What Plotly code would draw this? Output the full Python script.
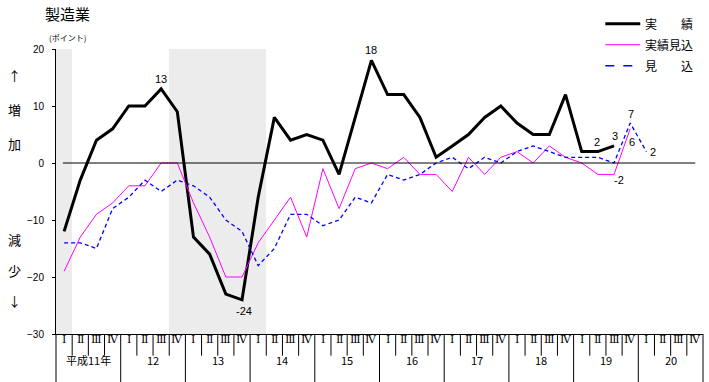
import plotly.graph_objects as go

# ---- data ----
quarters = ["Ⅰ", "Ⅱ", "Ⅲ", "Ⅳ"]
years = ["平成11年", "12", "13", "14", "15", "16", "17", "18", "19", "20"]
jisseki = [-12, -3, 4, 6, 10, 10, 13, 9, -13, -16, -23, -24, -6, 8, 4, 5, 4, -2, 8, 18,
           12, 12, 8, 1, 3, 5, 8, 10, 7, 5, 5, 12, 2, 2, 3]
jisseki_mikomi = [-19, -13, -9, -7, -4, -4, 0, 0, -7, -13, -20, -20, -14, -10, -6, -13, -1, -8, -1, 0,
                  -1, 1, -2, -2, -5, 1, -2, 1, 2, 0, 3, 1, 0, -2, -2, 6]
mikomi = [-14, -14, -15, -8, -6, -3, -5, -3, -4, -6, -10, -12, -18, -15, -9, -9, -11, -10, -6, -7,
          -2, -3, -2, 0, 1, -1, 1, 0, 2, 3, 2, 1, 1, 1, 0, 7, 2]
shaded_quarters = [0, 7, 8, 9, 10, 11, 12]
series_names = ["実　　績", "実績見込", "見　　込"]

YMIN, YMAX = -30, 20
nq = len(quarters) * len(years)

JP = "Noto Sans CJK JP"
NUM = "Liberation Sans"

fig = go.Figure()

# shaded periods (dotted pattern)
fig.add_trace(go.Bar(
    x=shaded_quarters, y=[YMAX - YMIN] * len(shaded_quarters), base=YMIN, width=1,
    marker=dict(color="white", line_width=0,
                pattern=dict(shape=".", fgcolor="#959595", bgcolor="white", size=2, solidity=0.35)),
    hoverinfo="skip", showlegend=False))

colors = ["black", "#ff00ff", "#0000ff"]
widths = [3, 1, 1.3]
dashes = ["solid", "solid", "4px,3px"]
for vals, c, w, d, nm in zip([jisseki, jisseki_mikomi, mikomi], colors, widths, dashes, series_names):
    fig.add_trace(go.Scatter(x=list(range(len(vals))), y=vals, mode="lines", name=nm,
                             line=dict(color=c, width=w, dash=d), showlegend=False))

shapes = []
# zero line
shapes.append(dict(type="line", xref="x", yref="y", x0=-0.07, x1=39.02, y0=0, y1=0,
                   line=dict(color="black", width=1)))
# x-axis separators
for k in range(nq + 1):
    full = (k % 4 == 0)
    shapes.append(dict(type="line", xref="paper", yref="paper", x0=k / nq, x1=k / nq,
                       y0=0, y1=-0.175 if full else -0.076, line=dict(color="black", width=1)))

annotations = []
for i in range(nq):
    annotations.append(dict(x=i, y=-0.05, xref="x", yref="paper", text=quarters[i % 4],
                            showarrow=False, font=dict(family="DejaVu Serif, " + JP, size=11, color="black")))
for j, yl in enumerate(years):
    annotations.append(dict(x=4 * j + 1.5, y=-0.128, xref="x", yref="paper", text=yl,
                            showarrow=False, font=dict(family=JP, size=11, color="black")))

# title and side texts
annotations.append(dict(x=-0.0201, y=1.124, xref="paper", yref="paper", text="製造業",
                        xanchor="left", yanchor="middle", showarrow=False,
                        font=dict(family=JP, size=15, color="black")))
annotations.append(dict(x=-0.0139, y=1.0397, xref="paper", yref="paper", text="(ポイント)",
                        xanchor="left", yanchor="middle", showarrow=False,
                        font=dict(family=JP, size=8, color="black")))
for txt, yp in [("↑", 0.906), ("増", 0.7868), ("加", 0.6674), ("減", 0.3302), ("少", 0.2213), ("↓", 0.1159)]:
    annotations.append(dict(x=-0.0634, y=yp, xref="paper", yref="paper", text=txt,
                            xanchor="center", yanchor="middle", showarrow=False,
                            font=dict(family=JP, size=13, color="black")))

# data labels
def lab(x, y, xs, ys):
    annotations.append(dict(x=x, y=y, xref="x", yref="y", text=str(y), showarrow=False,
                            xshift=xs, yshift=ys, font=dict(family=NUM, size=11, color="black")))

lab(6, jisseki[6], 0, 10)
lab(11, jisseki[11], 2, -11)
lab(19, jisseki[19], 0, 10)
lab(33, jisseki[33], -1, 10)
lab(34, jisseki[34], 1, 10)
lab(34, jisseki_mikomi[34], 5, -6)
lab(35, jisseki_mikomi[35], 2, -13)
lab(35, mikomi[35], 1, 9)
lab(36, mikomi[36], 7, 0)

# legend (manual)
for nm, c, w, d, yp in zip(series_names, colors, widths, dashes, [1.0889, 1.0151, 0.9413]):
    shapes.append(dict(type="line", xref="paper", yref="paper", x0=0.849, x1=0.903, y0=yp, y1=yp,
                       line=dict(color=c, width=w if w > 1 else 1, dash="dash" if d != "solid" else "solid")))
    annotations.append(dict(x=0.9079, y=yp, xref="paper", yref="paper", text=nm, xanchor="left",
                            yanchor="middle", showarrow=False, font=dict(family=JP, size=12, color="black")))

fig.update_layout(
    width=709, height=382,
    margin=dict(l=56, r=6, t=49, b=48),
    plot_bgcolor="white", paper_bgcolor="white",
    bargap=0, showlegend=False,
    shapes=shapes, annotations=annotations,
    xaxis=dict(range=[-0.5, nq - 0.5], showticklabels=False, showgrid=False, zeroline=False,
               showline=True, linecolor="black", linewidth=1, ticks="", fixedrange=True),
    yaxis=dict(range=[YMIN, YMAX], tick0=0, dtick=10, showgrid=False, zeroline=False,
               showline=True, linecolor="black", linewidth=1, ticks="outside", ticklen=3,
               tickcolor="black", ticklabelstandoff=6,
               tickfont=dict(family=NUM, size=10, color="black"), fixedrange=True),
)

fig.write_html("out.html", config={"displayModeBar": False},
               post_script="document.body.style.margin='0px';document.body.style.overflow='hidden';")
